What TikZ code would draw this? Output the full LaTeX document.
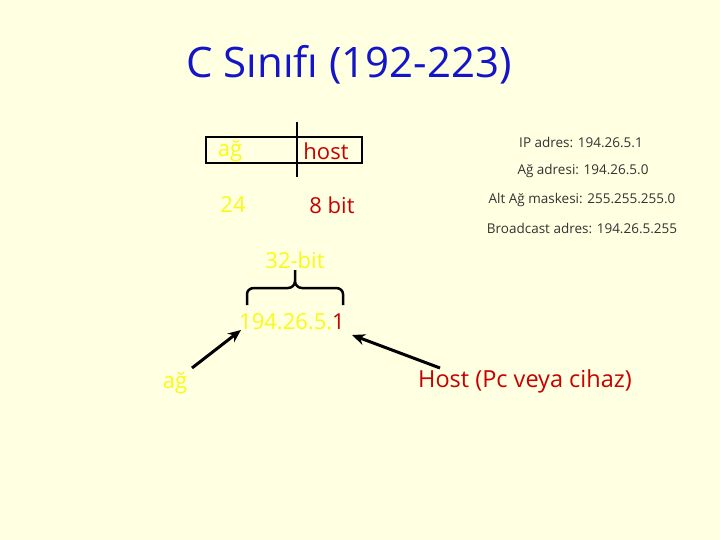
\documentclass[tikz,border=0pt]{standalone}
\usepackage{fontspec}
\setmainfont{Open Sans}
\usetikzlibrary{arrows.meta}
\definecolor{bg}{RGB}{255,255,225}
\definecolor{yel}{RGB}{250,250,20}
\definecolor{rd}{RGB}{200,0,0}
\definecolor{bl}{RGB}{20,20,200}
\begin{document}
\begin{tikzpicture}[x=1pt,y=-1pt,
  yt/.style={text=yel,font=\fontsize{22}{25}\selectfont,inner sep=0},
  rt/.style={text=rd,font=\fontsize{22}{25}\selectfont,inner sep=0},
  info/.style={text=black!80,font=\fontsize{13.5}{15}\selectfont,inner sep=0},
  arr/.style={line width=3pt,-{Stealth[length=13pt,width=11pt]}}]
\fill[bg] (0,0) rectangle (720,540);
\useasboundingbox (0,0) rectangle (720,540);
\node[text=bl,font=\fontsize{42}{46}\selectfont,inner sep=0] (title) at (349,65) {C Sınıfı (192-223)};
\draw[line width=2.5pt] (206,137) rectangle (362,163);
\draw[line width=2.5pt] (297,122) -- (297,177);
\node[yt] (ag1) at (230,151) {ağ};
\node[rt] (host) at (326,151) {host};
\node[yt] (n24) at (233,205) {24};
\node[rt] (n8) at (332,205) {8 bit};
\node[yt] (b32) at (295,260) {32-bit};
\draw[line width=2.5pt] (247,305) -- (247,294) to[out=90,in=180] (254,288) -- (288,288) to[out=0,in=-90] (295,281) -- (295,270)
  (295,270) -- (295,281) to[out=-90,in=180] (302,288) -- (336,288) to[out=0,in=90] (343,294) -- (343,305);
\node[inner sep=0,font=\fontsize{22}{25}\selectfont] (ip) at (292,322) {\textcolor{yel}{194.26.5.}\textcolor{rd}{1}};
\node[yt] (ag2) at (175,383) {ağ};
\node[text=rd,font=\fontsize{23.5}{26}\selectfont,inner sep=0] (hst) at (525,381) {Host (Pc veya cihaz)};
\coordinate (la) at (241,330);
\coordinate (ra) at (352,335);
\draw[arr] (192,368) -- (la);
\draw[arr] (440,368) -- (ra);
\node[info] (i1) at (581,142) {IP adres: 194.26.5.1};
\node[info] (i2) at (583,171) {Ağ adresi: 194.26.5.0};
\node[info] (i3) at (582,200) {Alt Ağ maskesi: 255.255.255.0};
\node[info] (i4) at (582,228) {Broadcast adres: 194.26.5.255};
\end{tikzpicture}
\end{document}
